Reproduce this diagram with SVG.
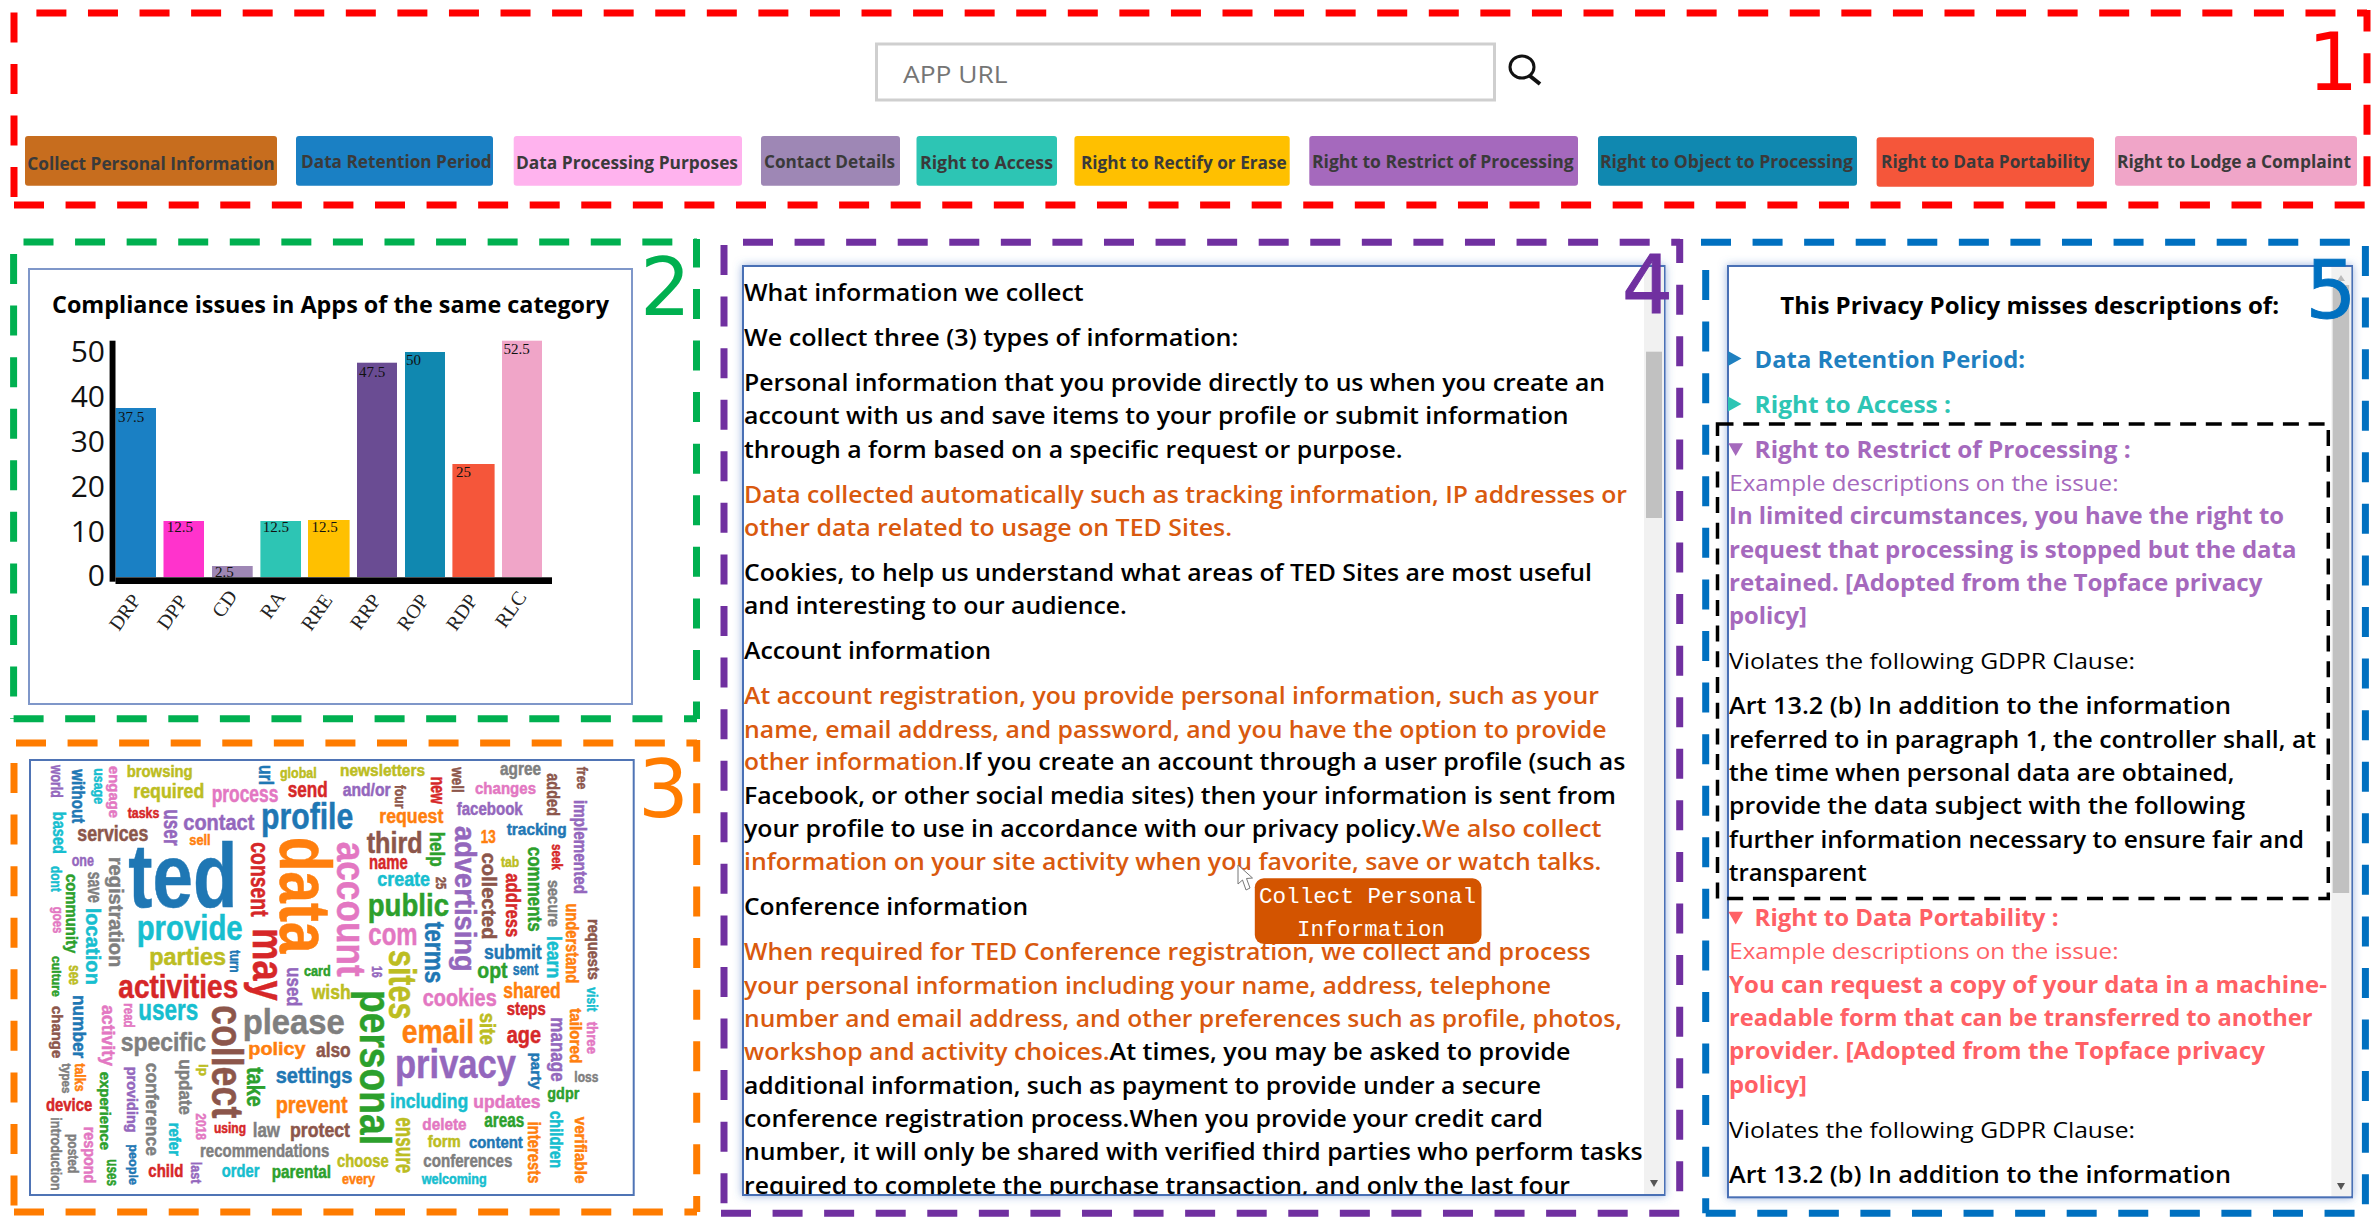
<svg xmlns="http://www.w3.org/2000/svg" width="2374" height="1226" viewBox="0 0 2374 1226">
<style>
text{font-family:"Open Sans","Noto Sans","Liberation Sans",sans-serif}
.dash{fill:none;stroke-width:7;stroke-dasharray:30 21.57}
.btn{font-size:18px;font-weight:700;fill:#3a3a3a}
.num{font-family:"DejaVu Sans",sans-serif;font-size:80px;text-anchor:middle}
.box{fill:#fff;stroke-width:2}
.body{font-size:22.5px;font-weight:600;fill:#000}
.or{fill:#d9590e}
.reg{font-weight:400}
.bold{font-weight:700}
.val{font-family:"Liberation Serif",serif;font-size:15px;fill:#111}
.ax{font-family:"Liberation Serif",serif;font-size:20px;fill:#222}
.yt{font-size:30px;fill:#111;text-anchor:end}
#cloud text{font-family:"Liberation Sans",Arial,sans-serif;font-weight:700;stroke-width:.5px}
.b{fill:#1f77b4;stroke:#1f77b4}.o{fill:#ff7f0e;stroke:#ff7f0e}.g{fill:#2ca02c;stroke:#2ca02c}.r{fill:#d62728;stroke:#d62728}.p{fill:#9467bd;stroke:#9467bd}.n{fill:#8c564b;stroke:#8c564b}.k{fill:#e377c2;stroke:#e377c2}.y{fill:#7f7f7f;stroke:#7f7f7f}.l{fill:#bcbd22;stroke:#bcbd22}.c{fill:#17becf;stroke:#17becf}
.tdrp{fill:#1f80c0}.tra{fill:#2dc5b4}.trrp{fill:#a569bd}.trdp{fill:#ff6065}
</style>
<defs>
<filter id="sh" x="-3%" y="-3%" width="106%" height="106%"><feDropShadow dx="0" dy="0" stdDeviation="4" flood-color="#4472c4" flood-opacity="0.55"/></filter>
<clipPath id="c4"><rect x="744" y="267" width="900" height="926.500"/></clipPath>
<clipPath id="c5"><rect x="1729" y="267" width="602" height="928"/></clipPath>
<clipPath id="cCD"><rect x="212" y="560" width="41" height="17"/></clipPath>
</defs>
<rect width="2374" height="1226" fill="#fff"/>

<g id="panel-1">
<path class="dash" stroke="#ff0000" d="M36.4 13H2367"/>
<path class="dash" stroke="#ff0000" d="M14 12.4V205"/>
<path class="dash" stroke="#ff0000" d="M14 205H2367"/>
<path class="dash" stroke="#ff0000" d="M2367 10V205" stroke-dashoffset="8.4"/>
<g id="search">
<rect x="876.5" y="44" width="618" height="56" fill="#fff" stroke="#cfcfcf" stroke-width="3"/>
<text x="903" y="82.7" font-size="24" fill="#757575" textLength="104.6" lengthAdjust="spacingAndGlyphs">APP URL</text>
<ellipse cx="1522" cy="67" rx="12" ry="11" fill="none" stroke="#111" stroke-width="3"/>
<path d="M1530 76L1540 84" stroke="#111" stroke-width="4" fill="none"/>
</g>
<g id="btn-cpi"><rect x="25" y="136" width="252" height="49.7" rx="3" fill="#c76d1e"/><text class="btn" x="27.3" y="170" textLength="247.4" lengthAdjust="spacingAndGlyphs">Collect Personal Information</text></g>
<g id="btn-drp"><rect x="296" y="136" width="197" height="49.7" rx="3" fill="#1a80c4"/><text class="btn" x="301" y="167.7" textLength="190.7" lengthAdjust="spacingAndGlyphs">Data Retention Period</text></g>
<g id="btn-dpp"><rect x="513.7" y="136" width="228.3" height="49.7" rx="3" fill="#ffb3ee"/><text class="btn" x="516" y="169.3" textLength="222" lengthAdjust="spacingAndGlyphs">Data Processing Purposes</text></g>
<g id="btn-cd"><rect x="761" y="136" width="139" height="49.7" rx="3" fill="#9e87b5"/><text class="btn" x="764" y="167.7" textLength="131" lengthAdjust="spacingAndGlyphs">Contact Details</text></g>
<g id="btn-ra"><rect x="916.5" y="136" width="140.5" height="49.7" rx="3" fill="#2dc5b4"/><text class="btn" x="920" y="169" textLength="133" lengthAdjust="spacingAndGlyphs">Right to Access</text></g>
<g id="btn-rre"><rect x="1074.4" y="136" width="215.3" height="49.7" rx="3" fill="#ffc000"/><text class="btn" x="1081" y="169" textLength="205.7" lengthAdjust="spacingAndGlyphs">Right to Rectify or Erase</text></g>
<g id="btn-rrp"><rect x="1309.3" y="136" width="268.7" height="49.7" rx="3" fill="#a569bd"/><text class="btn" x="1312" y="167.7" textLength="261.7" lengthAdjust="spacingAndGlyphs">Right to Restrict of Processing</text></g>
<g id="btn-rop"><rect x="1598" y="136" width="259" height="49.7" rx="3" fill="#1088b0"/><text class="btn" x="1600" y="167.7" textLength="253" lengthAdjust="spacingAndGlyphs">Right to Object to Processing</text></g>
<g id="btn-rdp"><rect x="1876.6" y="137.3" width="217.4" height="49.4" rx="3" fill="#f5563a"/><text class="btn" x="1881" y="167.7" textLength="209" lengthAdjust="spacingAndGlyphs">Right to Data Portability</text></g>
<g id="btn-rlc"><rect x="2115" y="136" width="242" height="49.7" rx="3" fill="#f0a5c8"/><text class="btn" x="2117" y="167.7" textLength="234" lengthAdjust="spacingAndGlyphs">Right to Lodge a Complaint</text></g>
<text class="num" x="2333" y="90" fill="#ff0000">1</text>
</g>

<g id="panel-2">
<path class="dash" stroke="#00b050" d="M23.5 242H697"/>
<path class="dash" stroke="#00b050" d="M13.6 254V719"/>
<path class="dash" stroke="#00b050" d="M13.6 718.7H697"/>
<path class="dash" stroke="#00b050" d="M696.5 239V719" stroke-dashoffset="1.6"/>
<rect class="box" x="29" y="269" width="603" height="435" stroke="#7f97c9"/>
<text x="52" y="313" font-size="23" font-weight="700" fill="#000" textLength="557" lengthAdjust="spacingAndGlyphs">Compliance issues in Apps of the same category</text>
<g id="bars">
<rect x="115.5" y="408" width="40.5" height="169" fill="#1a80c4"/>
<rect x="163.5" y="521" width="40.5" height="56" fill="#ff33cc"/>
<rect x="212" y="566" width="40.7" height="11" fill="#9e87b5"/>
<rect x="260.4" y="521" width="40.6" height="56" fill="#2dc5b4"/>
<rect x="308" y="520" width="41.6" height="57" fill="#ffc000"/>
<rect x="357" y="362.7" width="40" height="214.3" fill="#6a4c93"/>
<rect x="405" y="352" width="40" height="225" fill="#1088b0"/>
<rect x="452.4" y="464" width="42.2" height="113" fill="#f5563a"/>
<rect x="502" y="340.7" width="40" height="236.3" fill="#f0a5c8"/>
</g>
<rect x="109.6" y="340.7" width="5.9" height="241" fill="#000"/>
<rect x="115.5" y="577.3" width="436.5" height="6.7" fill="#000"/>
<g id="y-ticks">
<text class="yt" x="105" y="361.7">50</text><text class="yt" x="105" y="406.7">40</text><text class="yt" x="105" y="451.7">30</text><text class="yt" x="105" y="496.7">20</text><text class="yt" x="105" y="541.7">10</text><text class="yt" x="105" y="586">0</text>
</g>
<g id="values">
<text class="val" x="118" y="421.7">37.5</text><text class="val" x="166.7" y="531.7">12.5</text><text class="val" x="215" y="576.7" clip-path="url(#cCD)">2.5</text><text class="val" x="262.7" y="531.7">12.5</text><text class="val" x="311.6" y="531.7">12.5</text><text class="val" x="359" y="376.7">47.5</text><text class="val" x="406" y="365">50</text><text class="val" x="456" y="476.7">25</text><text class="val" x="503.6" y="354">52.5</text>
</g>
<g id="x-ticks">
<text class="ax" transform="translate(119 632) rotate(-55)">DRP</text>
<text class="ax" transform="translate(167 631) rotate(-55)">DPP</text>
<text class="ax" transform="translate(222 619) rotate(-55)">CD</text>
<text class="ax" transform="translate(270 620) rotate(-55)">RA</text>
<text class="ax" transform="translate(311 632) rotate(-55)">RRE</text>
<text class="ax" transform="translate(360 631) rotate(-55)">RRP</text>
<text class="ax" transform="translate(407 632) rotate(-55)">ROP</text>
<text class="ax" transform="translate(456 632) rotate(-55)">RDP</text>
<text class="ax" transform="translate(505 629) rotate(-55)">RLC</text>
</g>
<text class="num" x="665.5" y="315" fill="#00b050">2</text>
</g>

<g id="panel-3">
<path class="dash" stroke="#ff7c00" d="M16 743H697"/>
<path class="dash" stroke="#ff7c00" d="M14 763V1212"/>
<path class="dash" stroke="#ff7c00" d="M14 1212H697"/>
<path class="dash" stroke="#ff7c00" d="M696.7 740V1212" stroke-dashoffset="8.2"/>
<rect class="box" x="30" y="760" width="603.7" height="435" stroke="#4f74b5"/>
<g id="cloud">
<text class="l" x="126.7" y="776.7" font-size="17" textLength="66" lengthAdjust="spacingAndGlyphs">browsing</text>
<text class="l" x="133.3" y="798.3" font-size="20.5" textLength="71" lengthAdjust="spacingAndGlyphs">required</text>
<text class="k" x="211.7" y="801.7" font-size="23" textLength="66.7" lengthAdjust="spacingAndGlyphs">process</text>
<text class="l" x="280" y="778.3" font-size="15" textLength="36.7" lengthAdjust="spacingAndGlyphs">global</text>
<text class="r" x="287.7" y="796.7" font-size="22" textLength="40" lengthAdjust="spacingAndGlyphs">send</text>
<text class="l" x="340" y="775.7" font-size="17" textLength="85" lengthAdjust="spacingAndGlyphs">newsletters</text>
<text class="p" x="342.7" y="795.7" font-size="18" textLength="48" lengthAdjust="spacingAndGlyphs">and/or</text>
<text class="r" x="127.7" y="817.7" font-size="15" textLength="31.7" lengthAdjust="spacingAndGlyphs">tasks</text>
<text class="p" x="183.3" y="830" font-size="22" textLength="71" lengthAdjust="spacingAndGlyphs">contact</text>
<text class="b" x="261" y="829.3" font-size="36" textLength="92.3" lengthAdjust="spacingAndGlyphs">profile</text>
<text class="n" x="77.3" y="840.7" font-size="22" textLength="71" lengthAdjust="spacingAndGlyphs">services</text>
<text class="o" x="189.3" y="845" font-size="14" textLength="21.3" lengthAdjust="spacingAndGlyphs">sell</text>
<text class="p" x="71.7" y="866" font-size="17" textLength="22.3" lengthAdjust="spacingAndGlyphs">one</text>
<text class="b" x="128.3" y="906.7" font-size="91" textLength="109" lengthAdjust="spacingAndGlyphs">ted</text>
<text class="c" x="136.7" y="940" font-size="35" textLength="106" lengthAdjust="spacingAndGlyphs">provide</text>
<text class="l" x="149.3" y="965" font-size="23" textLength="76.7" lengthAdjust="spacingAndGlyphs">parties</text>
<text class="g" x="304" y="976" font-size="14" textLength="26.7" lengthAdjust="spacingAndGlyphs">card</text>
<text class="l" x="311.7" y="999.3" font-size="21" textLength="39" lengthAdjust="spacingAndGlyphs">wish</text>
<text class="r" x="118.3" y="997.7" font-size="33" textLength="120" lengthAdjust="spacingAndGlyphs">activities</text>
<text class="c" x="138.3" y="1020" font-size="30" textLength="60" lengthAdjust="spacingAndGlyphs">users</text>
<text class="y" x="242.7" y="1034" font-size="35" textLength="102" lengthAdjust="spacingAndGlyphs">please</text>
<text class="y" x="120.7" y="1051" font-size="25" textLength="85.3" lengthAdjust="spacingAndGlyphs">specific</text>
<text class="o" x="248.3" y="1055" font-size="19" textLength="57.3" lengthAdjust="spacingAndGlyphs">policy</text>
<text class="n" x="316" y="1056.7" font-size="20" textLength="34.7" lengthAdjust="spacingAndGlyphs">also</text>
<text class="b" x="275.7" y="1083.3" font-size="22" textLength="76.7" lengthAdjust="spacingAndGlyphs">settings</text>
<text class="o" x="275.7" y="1113.3" font-size="23" textLength="72" lengthAdjust="spacingAndGlyphs">prevent</text>
<text class="r" x="46" y="1111" font-size="18" textLength="46.3" lengthAdjust="spacingAndGlyphs">device</text>
<text class="r" x="214" y="1133.3" font-size="14" textLength="32" lengthAdjust="spacingAndGlyphs">using</text>
<text class="y" x="252.7" y="1137.3" font-size="21" textLength="27.3" lengthAdjust="spacingAndGlyphs">law</text>
<text class="n" x="290" y="1137.3" font-size="20" textLength="60" lengthAdjust="spacingAndGlyphs">protect</text>
<text class="y" x="200" y="1156.7" font-size="18" textLength="129.3" lengthAdjust="spacingAndGlyphs">recommendations</text>
<text class="r" x="148.3" y="1176.7" font-size="18" textLength="35" lengthAdjust="spacingAndGlyphs">child</text>
<text class="c" x="221.7" y="1176.7" font-size="18" textLength="37.7" lengthAdjust="spacingAndGlyphs">order</text>
<text class="g" x="271.7" y="1178.3" font-size="18" textLength="59.3" lengthAdjust="spacingAndGlyphs">parental</text>
<text class="y" x="500" y="775" font-size="18" textLength="41" lengthAdjust="spacingAndGlyphs">agree</text>
<text class="k" x="475" y="794" font-size="17" textLength="61" lengthAdjust="spacingAndGlyphs">changes</text>
<text class="p" x="456.7" y="815" font-size="18" textLength="66" lengthAdjust="spacingAndGlyphs">facebook</text>
<text class="o" x="379.3" y="823.3" font-size="20" textLength="64" lengthAdjust="spacingAndGlyphs">request</text>
<text class="b" x="506.7" y="835" font-size="17" textLength="60" lengthAdjust="spacingAndGlyphs">tracking</text>
<text class="n" x="366.7" y="852.7" font-size="30" textLength="56" lengthAdjust="spacingAndGlyphs">third</text>
<text class="o" x="480.7" y="843.3" font-size="19" textLength="15" lengthAdjust="spacingAndGlyphs">13</text>
<text class="r" x="369" y="869.3" font-size="20" textLength="38.7" lengthAdjust="spacingAndGlyphs">name</text>
<text class="l" x="501" y="867.3" font-size="15.5" textLength="18.3" lengthAdjust="spacingAndGlyphs">tab</text>
<text class="c" x="377.3" y="886" font-size="20" textLength="52.7" lengthAdjust="spacingAndGlyphs">create</text>
<text class="g" x="367.7" y="916" font-size="32" textLength="81.3" lengthAdjust="spacingAndGlyphs">public</text>
<text class="k" x="368.3" y="945" font-size="32" textLength="49.3" lengthAdjust="spacingAndGlyphs">com</text>
<text class="b" x="484" y="959" font-size="20" textLength="57.7" lengthAdjust="spacingAndGlyphs">submit</text>
<text class="g" x="477.3" y="978" font-size="22" textLength="30.3" lengthAdjust="spacingAndGlyphs">opt</text>
<text class="b" x="512.7" y="975" font-size="17" textLength="25.7" lengthAdjust="spacingAndGlyphs">sent</text>
<text class="k" x="422.7" y="1006" font-size="23" textLength="74" lengthAdjust="spacingAndGlyphs">cookies</text>
<text class="o" x="503.3" y="998.3" font-size="21.5" textLength="57.3" lengthAdjust="spacingAndGlyphs">shared</text>
<text class="r" x="506.7" y="1015" font-size="18" textLength="39" lengthAdjust="spacingAndGlyphs">steps</text>
<text class="o" x="401.7" y="1043.3" font-size="33" textLength="72.3" lengthAdjust="spacingAndGlyphs">email</text>
<text class="r" x="506.7" y="1043.3" font-size="24" textLength="34.3" lengthAdjust="spacingAndGlyphs">age</text>
<text class="p" x="395" y="1078.3" font-size="41" textLength="121" lengthAdjust="spacingAndGlyphs">privacy</text>
<text class="y" x="574.3" y="1081.7" font-size="14" textLength="24" lengthAdjust="spacingAndGlyphs">loss</text>
<text class="g" x="547.3" y="1099" font-size="17" textLength="32" lengthAdjust="spacingAndGlyphs">gdpr</text>
<text class="c" x="390" y="1108.3" font-size="20.5" textLength="78.3" lengthAdjust="spacingAndGlyphs">including</text>
<text class="k" x="473.3" y="1108.3" font-size="18" textLength="67.3" lengthAdjust="spacingAndGlyphs">updates</text>
<text class="k" x="422.3" y="1130" font-size="17" textLength="44.3" lengthAdjust="spacingAndGlyphs">delete</text>
<text class="g" x="484.3" y="1126.7" font-size="20" textLength="40" lengthAdjust="spacingAndGlyphs">areas</text>
<text class="l" x="427.7" y="1146.7" font-size="16" textLength="33" lengthAdjust="spacingAndGlyphs">form</text>
<text class="b" x="469" y="1148.3" font-size="16" textLength="53.7" lengthAdjust="spacingAndGlyphs">content</text>
<text class="l" x="337" y="1166.7" font-size="17.5" textLength="51.7" lengthAdjust="spacingAndGlyphs">choose</text>
<text class="y" x="423.3" y="1166.7" font-size="17.5" textLength="89" lengthAdjust="spacingAndGlyphs">conferences</text>
<text class="o" x="342" y="1184" font-size="15" textLength="33" lengthAdjust="spacingAndGlyphs">every</text>
<text class="c" x="421.7" y="1184" font-size="14" textLength="65" lengthAdjust="spacingAndGlyphs">welcoming</text>
<text class="p" transform="translate(50.7 765) rotate(90)" font-size="16" textLength="32.7" lengthAdjust="spacingAndGlyphs">world</text>
<text class="b" transform="translate(72.3 769.3) rotate(90)" font-size="17.5" textLength="54" lengthAdjust="spacingAndGlyphs">without</text>
<text class="c" transform="translate(94 768.3) rotate(90)" font-size="14" textLength="35.7" lengthAdjust="spacingAndGlyphs">usage</text>
<text class="k" transform="translate(108.7 766) rotate(90)" font-size="15" textLength="52" lengthAdjust="spacingAndGlyphs">engage</text>
<text class="c" transform="translate(53.3 811.7) rotate(90)" font-size="18" textLength="42.3" lengthAdjust="spacingAndGlyphs">based</text>
<text class="p" transform="translate(164 809.3) rotate(90)" font-size="23" textLength="36.3" lengthAdjust="spacingAndGlyphs">user</text>
<text class="b" transform="translate(259.3 765) rotate(90)" font-size="20" textLength="20" lengthAdjust="spacingAndGlyphs">url</text>
<text class="r" transform="translate(250.7 842.3) rotate(90)" font-size="26" textLength="74.3" lengthAdjust="spacingAndGlyphs">consent</text>
<text class="o" transform="translate(280 836.7) rotate(90)" font-size="72" textLength="116.7" lengthAdjust="spacingAndGlyphs">data</text>
<text class="k" transform="translate(336.7 841.7) rotate(90)" font-size="40" textLength="135" lengthAdjust="spacingAndGlyphs">account</text>
<text class="r" transform="translate(253.3 928.3) rotate(90)" font-size="44" textLength="72.3" lengthAdjust="spacingAndGlyphs">may</text>
<text class="c" transform="translate(50.7 866) rotate(90)" font-size="15.5" textLength="25.7" lengthAdjust="spacingAndGlyphs">dont</text>
<text class="g" transform="translate(66 874) rotate(90)" font-size="17" textLength="79.3" lengthAdjust="spacingAndGlyphs">community</text>
<text class="y" transform="translate(88.3 871.7) rotate(90)" font-size="20" textLength="31" lengthAdjust="spacingAndGlyphs">save</text>
<text class="y" transform="translate(109 856.7) rotate(90)" font-size="21" textLength="110.7" lengthAdjust="spacingAndGlyphs">registration</text>
<text class="c" transform="translate(85.7 907.7) rotate(90)" font-size="20.5" textLength="77.3" lengthAdjust="spacingAndGlyphs">location</text>
<text class="k" transform="translate(52.7 906.7) rotate(90)" font-size="15" textLength="26.7" lengthAdjust="spacingAndGlyphs">goes</text>
<text class="g" transform="translate(51.7 956) rotate(90)" font-size="12.5" textLength="40.7" lengthAdjust="spacingAndGlyphs">culture</text>
<text class="l" transform="translate(69 965) rotate(90)" font-size="17" textLength="20" lengthAdjust="spacingAndGlyphs">see</text>
<text class="b" transform="translate(230 950) rotate(90)" font-size="15" textLength="22.7" lengthAdjust="spacingAndGlyphs">turn</text>
<text class="p" transform="translate(287.3 967.3) rotate(90)" font-size="21" textLength="39.3" lengthAdjust="spacingAndGlyphs">used</text>
<text class="b" transform="translate(72.7 995) rotate(90)" font-size="18" textLength="63.3" lengthAdjust="spacingAndGlyphs">number</text>
<text class="n" transform="translate(52 1006) rotate(90)" font-size="15" textLength="52.3" lengthAdjust="spacingAndGlyphs">change</text>
<text class="k" transform="translate(102 1005) rotate(90)" font-size="19" textLength="61" lengthAdjust="spacingAndGlyphs">activity</text>
<text class="k" transform="translate(124 1003.3) rotate(90)" font-size="14" textLength="24.3" lengthAdjust="spacingAndGlyphs">read</text>
<text class="n" transform="translate(211.7 1005) rotate(90)" font-size="44" textLength="113.3" lengthAdjust="spacingAndGlyphs">collect</text>
<text class="y" transform="translate(62 1063.3) rotate(90)" font-size="12" textLength="30" lengthAdjust="spacingAndGlyphs">types</text>
<text class="o" transform="translate(75 1063.3) rotate(90)" font-size="14" textLength="28.3" lengthAdjust="spacingAndGlyphs">talks</text>
<text class="g" transform="translate(100 1071.7) rotate(90)" font-size="15" textLength="78.3" lengthAdjust="spacingAndGlyphs">experience</text>
<text class="p" transform="translate(127 1066.7) rotate(90)" font-size="15.5" textLength="66" lengthAdjust="spacingAndGlyphs">providing</text>
<text class="y" transform="translate(146 1062.7) rotate(90)" font-size="19" textLength="93.3" lengthAdjust="spacingAndGlyphs">conference</text>
<text class="y" transform="translate(179 1059.3) rotate(90)" font-size="19" textLength="55.7" lengthAdjust="spacingAndGlyphs">update</text>
<text class="l" transform="translate(199 1064) rotate(90)" font-size="13" textLength="12" lengthAdjust="spacingAndGlyphs">ip</text>
<text class="g" transform="translate(247.3 1067.3) rotate(90)" font-size="24" textLength="39.3" lengthAdjust="spacingAndGlyphs">take</text>
<text class="y" transform="translate(50.7 1117.3) rotate(90)" font-size="15" textLength="73.3" lengthAdjust="spacingAndGlyphs">introduction</text>
<text class="y" transform="translate(68 1134) rotate(90)" font-size="14" textLength="39.3" lengthAdjust="spacingAndGlyphs">posted</text>
<text class="k" transform="translate(84 1126.7) rotate(90)" font-size="16" textLength="56.7" lengthAdjust="spacingAndGlyphs">respond</text>
<text class="g" transform="translate(106.7 1159.3) rotate(90)" font-size="16" textLength="26.7" lengthAdjust="spacingAndGlyphs">uses</text>
<text class="b" transform="translate(129 1144.3) rotate(90)" font-size="13" textLength="40.7" lengthAdjust="spacingAndGlyphs">people</text>
<text class="c" transform="translate(169 1122.7) rotate(90)" font-size="16" textLength="33.3" lengthAdjust="spacingAndGlyphs">refer</text>
<text class="k" transform="translate(195.7 1113.3) rotate(90)" font-size="15" textLength="26.7" lengthAdjust="spacingAndGlyphs">2018</text>
<text class="p" transform="translate(190.7 1161.7) rotate(90)" font-size="15" textLength="21.7" lengthAdjust="spacingAndGlyphs">last</text>
<text class="n" transform="translate(452.3 767.3) rotate(90)" font-size="16" textLength="25.3" lengthAdjust="spacingAndGlyphs">well</text>
<text class="n" transform="translate(395 785) rotate(90)" font-size="15" textLength="23.3" lengthAdjust="spacingAndGlyphs">four</text>
<text class="r" transform="translate(430.7 776.7) rotate(90)" font-size="20" textLength="27.3" lengthAdjust="spacingAndGlyphs">new</text>
<text class="n" transform="translate(547.3 773.3) rotate(90)" font-size="18" textLength="42.7" lengthAdjust="spacingAndGlyphs">added</text>
<text class="n" transform="translate(577.3 766.7) rotate(90)" font-size="15" textLength="22.7" lengthAdjust="spacingAndGlyphs">free</text>
<text class="p" transform="translate(574 800) rotate(90)" font-size="18" textLength="94" lengthAdjust="spacingAndGlyphs">implemented</text>
<text class="g" transform="translate(430 831.7) rotate(90)" font-size="20" textLength="35" lengthAdjust="spacingAndGlyphs">help</text>
<text class="n" transform="translate(435.7 876.7) rotate(90)" font-size="15" textLength="12.7" lengthAdjust="spacingAndGlyphs">25</text>
<text class="p" transform="translate(455 826) rotate(90)" font-size="29" textLength="145.7" lengthAdjust="spacingAndGlyphs">advertising</text>
<text class="n" transform="translate(481.7 852.7) rotate(90)" font-size="20.5" textLength="86.7" lengthAdjust="spacingAndGlyphs">collected</text>
<text class="r" transform="translate(505.7 873.3) rotate(90)" font-size="20" textLength="64" lengthAdjust="spacingAndGlyphs">address</text>
<text class="g" transform="translate(528.3 846.7) rotate(90)" font-size="20" textLength="85" lengthAdjust="spacingAndGlyphs">comments</text>
<text class="r" transform="translate(551.7 844) rotate(90)" font-size="14" textLength="26" lengthAdjust="spacingAndGlyphs">seek</text>
<text class="y" transform="translate(548.3 880) rotate(90)" font-size="17" textLength="46.7" lengthAdjust="spacingAndGlyphs">secure</text>
<text class="o" transform="translate(566 903.3) rotate(90)" font-size="18" textLength="80" lengthAdjust="spacingAndGlyphs">understand</text>
<text class="n" transform="translate(588 919) rotate(90)" font-size="16" textLength="61" lengthAdjust="spacingAndGlyphs">requests</text>
<text class="b" transform="translate(425 921.7) rotate(90)" font-size="28" textLength="61.7" lengthAdjust="spacingAndGlyphs">terms</text>
<text class="c" transform="translate(547.3 936) rotate(90)" font-size="21" textLength="42.3" lengthAdjust="spacingAndGlyphs">learn</text>
<text class="p" transform="translate(372.3 966) rotate(90)" font-size="15" textLength="11.7" lengthAdjust="spacingAndGlyphs">16</text>
<text class="l" transform="translate(389.3 950) rotate(90)" font-size="38" textLength="69.3" lengthAdjust="spacingAndGlyphs">sites</text>
<text class="l" transform="translate(480 1012.7) rotate(90)" font-size="22" textLength="32.3" lengthAdjust="spacingAndGlyphs">site</text>
<text class="c" transform="translate(586.7 987.3) rotate(90)" font-size="14.5" textLength="24.3" lengthAdjust="spacingAndGlyphs">visit</text>
<text class="k" transform="translate(587.3 1021.7) rotate(90)" font-size="14" textLength="32.3" lengthAdjust="spacingAndGlyphs">three</text>
<text class="o" transform="translate(570 1008.3) rotate(90)" font-size="16" textLength="55" lengthAdjust="spacingAndGlyphs">tailored</text>
<text class="p" transform="translate(551 1017.3) rotate(90)" font-size="20" textLength="64.3" lengthAdjust="spacingAndGlyphs">manage</text>
<text class="b" transform="translate(531 1052.7) rotate(90)" font-size="15" textLength="36.7" lengthAdjust="spacingAndGlyphs">party</text>
<text class="g" transform="translate(360 990) rotate(90)" font-size="44" textLength="155" lengthAdjust="spacingAndGlyphs">personal</text>
<text class="c" transform="translate(550 1111) rotate(90)" font-size="18" textLength="57.3" lengthAdjust="spacingAndGlyphs">children</text>
<text class="o" transform="translate(575 1116.7) rotate(90)" font-size="17" textLength="66.7" lengthAdjust="spacingAndGlyphs">verifiable</text>
<text class="o" transform="translate(528.3 1121.7) rotate(90)" font-size="18" textLength="61.7" lengthAdjust="spacingAndGlyphs">interests</text>
<text class="l" transform="translate(396 1117.3) rotate(90)" font-size="25" textLength="56" lengthAdjust="spacingAndGlyphs">ensure</text>
</g>
<text class="num" x="663.5" y="817" fill="#ff7c00">3</text>
</g>

<g id="panel-4">
<path class="dash" stroke="#7030a0" d="M743 242.3H1680"/>
<path class="dash" stroke="#7030a0" d="M724 245V1205"/>
<path class="dash" stroke="#7030a0" d="M721 1213.3H1680"/>
<path class="dash" stroke="#7030a0" d="M1679.7 239V1213" stroke-dashoffset="5.9"/>
<rect class="box" x="743" y="266" width="921.5" height="929" stroke="#4a6fb5" filter="url(#sh)"/>
<rect x="1644" y="267" width="20" height="927" fill="#f1f1f1"/>
<rect x="1646" y="351.7" width="16" height="166.3" fill="#c1c1c1"/>
<path d="M1650 1180h8l-4 7z" fill="#555"/>
<g clip-path="url(#c4)" transform="translate(0 1)">
<text class="body" x="744" y="300" textLength="339.7" lengthAdjust="spacingAndGlyphs">What information we collect</text>
<text class="body" x="744" y="345" textLength="494.4" lengthAdjust="spacingAndGlyphs">We collect three (3) types of information:</text>
<text class="body" x="744" y="390" textLength="861" lengthAdjust="spacingAndGlyphs">Personal information that you provide directly to us when you create an</text>
<text class="body" x="744" y="423.3" textLength="824.6" lengthAdjust="spacingAndGlyphs">account with us and save items to your profile or submit information</text>
<text class="body" x="744" y="456.7" textLength="658.5" lengthAdjust="spacingAndGlyphs">through a form based on a specific request or purpose.</text>
<text class="body or" x="744" y="501.7" textLength="883" lengthAdjust="spacingAndGlyphs">Data collected automatically such as tracking information, IP addresses or</text>
<text class="body or" x="744" y="535" textLength="488" lengthAdjust="spacingAndGlyphs">other data related to usage on TED Sites.</text>
<text class="body" x="744" y="580" textLength="848" lengthAdjust="spacingAndGlyphs">Cookies, to help us understand what areas of TED Sites are most useful</text>
<text class="body" x="744" y="613.3" textLength="382.7" lengthAdjust="spacingAndGlyphs">and interesting to our audience.</text>
<text class="body" x="744" y="658.3" textLength="247" lengthAdjust="spacingAndGlyphs">Account information</text>
<text class="body or" x="744" y="703.3" textLength="855" lengthAdjust="spacingAndGlyphs">At account registration, you provide personal information, such as your</text>
<text class="body or" x="744" y="736.7" textLength="862.5" lengthAdjust="spacingAndGlyphs">name, email address, and password, and you have the option to provide</text>
<text class="body or" x="744" y="769.3" textLength="220.4" lengthAdjust="spacingAndGlyphs">other information.</text>
<text class="body" x="964.4" y="769.3" textLength="661" lengthAdjust="spacingAndGlyphs">If you create an account through a user profile (such as</text>
<text class="body" x="744" y="802.7" textLength="872" lengthAdjust="spacingAndGlyphs">Facebook, or other social media sites) then your information is sent from</text>
<text class="body" x="744" y="836" textLength="678" lengthAdjust="spacingAndGlyphs">your profile to use in accordance with our privacy policy.</text>
<text class="body or" x="1422" y="836" textLength="179.4" lengthAdjust="spacingAndGlyphs">We also collect</text>
<text class="body or" x="744" y="869.3" textLength="857.4" lengthAdjust="spacingAndGlyphs">information on your site activity when you favorite, save or watch talks.</text>
<text class="body" x="744" y="914.3" textLength="284" lengthAdjust="spacingAndGlyphs">Conference information</text>
<text class="body or" x="744" y="959.3" textLength="846.7" lengthAdjust="spacingAndGlyphs">When required for TED Conference registration, we collect and process</text>
<text class="body or" x="744" y="992.7" textLength="807" lengthAdjust="spacingAndGlyphs">your personal information including your name, address, telephone</text>
<text class="body or" x="744" y="1026" textLength="878" lengthAdjust="spacingAndGlyphs">number and email address, and other preferences such as profile, photos,</text>
<text class="body or" x="744" y="1059.3" textLength="365.6" lengthAdjust="spacingAndGlyphs">workshop and activity choices.</text>
<text class="body" x="1109.6" y="1059.3" textLength="460.9" lengthAdjust="spacingAndGlyphs">At times, you may be asked to provide</text>
<text class="body" x="744" y="1092.7" textLength="797" lengthAdjust="spacingAndGlyphs">additional information, such as payment to provide under a secure</text>
<text class="body" x="744" y="1126" textLength="799" lengthAdjust="spacingAndGlyphs">conference registration process.When you provide your credit card</text>
<text class="body" x="744" y="1159.3" textLength="898.5" lengthAdjust="spacingAndGlyphs">number, it will only be shared with verified third parties who perform tasks</text>
<text class="body" x="744" y="1192.7" textLength="826" lengthAdjust="spacingAndGlyphs">required to complete the purchase transaction, and only the last four</text>
</g>
<g id="tooltip">
<rect x="1254.8" y="878.3" width="226.7" height="65.7" rx="9" fill="#d35400"/>
<text x="1259" y="903.3" font-size="22" fill="#fff" style="font-family:'Liberation Mono',monospace" textLength="217" lengthAdjust="spacingAndGlyphs">Collect Personal</text>
<text x="1297" y="936" font-size="22" fill="#fff" style="font-family:'Liberation Mono',monospace" textLength="148" lengthAdjust="spacingAndGlyphs">Information</text>
</g>
<path id="cursor" d="M1238 865L1238 884L1242.5 880L1246 890L1250 888L1246.5 878.5L1252.5 878Z" fill="#fff" stroke="#777" stroke-width="1"/>
<text class="num" x="1647.5" y="313" fill="#7030a0" stroke="#7030a0" stroke-width="1">4</text>
</g>

<g id="panel-5">
<path class="dash" stroke="#0070c0" d="M1701 242.3H2366"/>
<path class="dash" stroke="#0070c0" d="M1705.7 270V1213.3"/>
<path class="dash" stroke="#0070c0" d="M1705.7 1213.3H2366"/>
<path class="dash" stroke="#0070c0" d="M2365.4 246V1213"/>
<rect class="box" x="1728" y="266" width="624" height="931.3" stroke="#4a6fb5" filter="url(#sh)"/>
<rect x="2331.4" y="267" width="20" height="929" fill="#f1f1f1"/>
<rect x="2332.7" y="285" width="16.5" height="608" fill="#c1c1c1"/>
<path d="M2337 281h8l-4-6z" fill="#bbb"/>
<path d="M2337 1183h8l-4 7z" fill="#555"/>
<path class="tdrp" d="M1728 351v15l13.5-7.5z"/>
<path class="tra" d="M1728 396.5v15l13.5-7.5z"/>
<path class="trrp" d="M1728.4 443.3h14.6l-7.3 12.7z"/>
<path class="trdp" d="M1728.4 911.7h14.6l-7.3 12.7z"/>
<g clip-path="url(#c5)" transform="translate(0 1)">
<text class="body bold" x="1780.3" y="312.7" textLength="498.7" lengthAdjust="spacingAndGlyphs">This Privacy Policy misses descriptions of:</text>
<text class="body bold" x="1754.6" y="366.7" style="fill:#1f80c0" textLength="270.4" lengthAdjust="spacingAndGlyphs">Data Retention Period:</text>
<text class="body bold" x="1754.6" y="411.7" style="fill:#2dc5b4" textLength="196.4" lengthAdjust="spacingAndGlyphs">Right to Access :</text>
<text class="body bold" x="1754.6" y="456.7" style="fill:#a569bd" textLength="376" lengthAdjust="spacingAndGlyphs">Right to Restrict of Processing :</text>
<text class="body reg" x="1729.3" y="490" style="fill:#a569bd" textLength="389.2" lengthAdjust="spacingAndGlyphs">Example descriptions on the issue:</text>
<text class="body bold" x="1729" y="523.3" style="fill:#a569bd" textLength="555" lengthAdjust="spacingAndGlyphs">In limited circumstances, you have the right to</text>
<text class="body bold" x="1729" y="556.7" style="fill:#a569bd" textLength="567.5" lengthAdjust="spacingAndGlyphs">request that processing is stopped but the data</text>
<text class="body bold" x="1729" y="590" style="fill:#a569bd" textLength="533.4" lengthAdjust="spacingAndGlyphs">retained. [Adopted from the Topface privacy</text>
<text class="body bold" x="1729" y="623.3" style="fill:#a569bd" textLength="78" lengthAdjust="spacingAndGlyphs">policy]</text>
<text class="body reg" x="1729" y="668.3" textLength="406" lengthAdjust="spacingAndGlyphs">Violates the following GDPR Clause:</text>
<text class="body" x="1729" y="713.3" textLength="502" lengthAdjust="spacingAndGlyphs">Art 13.2 (b) In addition to the information</text>
<text class="body" x="1729" y="746.7" textLength="587" lengthAdjust="spacingAndGlyphs">referred to in paragraph 1, the controller shall, at</text>
<text class="body" x="1729" y="780" textLength="505.5" lengthAdjust="spacingAndGlyphs">the time when personal data are obtained,</text>
<text class="body" x="1729" y="813.3" textLength="516" lengthAdjust="spacingAndGlyphs">provide the data subject with the following</text>
<text class="body" x="1729" y="846.7" textLength="575" lengthAdjust="spacingAndGlyphs">further information necessary to ensure fair and</text>
<text class="body" x="1729" y="880" textLength="137.7" lengthAdjust="spacingAndGlyphs">transparent</text>
<text class="body bold" x="1754.6" y="925" style="fill:#ff6065" textLength="304" lengthAdjust="spacingAndGlyphs">Right to Data Portability :</text>
<text class="body reg" x="1729.3" y="958.3" style="fill:#ff6065" textLength="389.2" lengthAdjust="spacingAndGlyphs">Example descriptions on the issue:</text>
<text class="body bold" x="1729" y="991.7" style="fill:#ff6065" textLength="598" lengthAdjust="spacingAndGlyphs">You can request a copy of your data in a machine-</text>
<text class="body bold" x="1729" y="1025" style="fill:#ff6065" textLength="583.6" lengthAdjust="spacingAndGlyphs">readable form that can be transferred to another</text>
<text class="body bold" x="1729" y="1058.3" style="fill:#ff6065" textLength="536" lengthAdjust="spacingAndGlyphs">provider. [Adopted from the Topface privacy</text>
<text class="body bold" x="1729" y="1091.7" style="fill:#ff6065" textLength="78" lengthAdjust="spacingAndGlyphs">policy]</text>
<text class="body reg" x="1729" y="1136.7" textLength="406" lengthAdjust="spacingAndGlyphs">Violates the following GDPR Clause:</text>
<text class="body" x="1729" y="1181.7" textLength="502" lengthAdjust="spacingAndGlyphs">Art 13.2 (b) In addition to the information</text>
</g>
<rect id="highlight" x="1717.5" y="424" width="610.8" height="474.6" fill="none" stroke="#000" stroke-width="3.5" stroke-dasharray="16 9.7"/>
<text class="num" x="2331" y="318" fill="#0070c0" stroke="#0070c0" stroke-width="1">5</text>
</g>
</svg>
